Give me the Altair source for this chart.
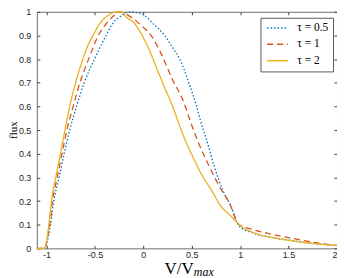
import altair as alt
import pandas as pd

tau_labels = ["τ = 0.5", "τ = 1", "τ = 2"]
colors = ["#0072BD", "#D95319", "#EDB120"]
dashes = [[1.5, 2], [6, 4], [1, 0]]

x_ticks = [-1, -0.5, 0, 0.5, 1, 1.5, 2]
y_ticks = [0, 0.1, 0.2, 0.3, 0.4, 0.5, 0.6, 0.7, 0.8, 0.9, 1]

# tau = 0.5 (blue, dotted)
v_05 = [-1.1, -1.02, -1.0, -0.959, -0.925, -0.87, -0.818, -0.76, -0.69, -0.61, -0.505,
        -0.385, -0.317, -0.22, -0.14, -0.08, 0.013, 0.1, 0.22, 0.3, 0.376, 0.47, 0.55,
        0.589, 0.664, 0.733, 0.819, 0.905, 0.99, 1.128, 1.334, 1.505, 1.746, 2.0]
f_05 = [0, 0, 0.02, 0.1, 0.2, 0.3, 0.4, 0.5, 0.6, 0.7, 0.8,
        0.9, 0.95, 0.985, 1.0, 0.998, 0.985, 0.95, 0.9, 0.85, 0.8, 0.7, 0.6,
        0.542, 0.444, 0.346, 0.248, 0.178, 0.094, 0.066, 0.045, 0.035, 0.021, 0.012]

# tau = 1 (red, dashed)
v_1 = [-1.1, -1.02, -1.0, -0.966, -0.938, -0.89, -0.84, -0.79, -0.725, -0.655, -0.565,
       -0.465, -0.382, -0.3, -0.24, -0.18, -0.1, -0.03, 0.08, 0.185, 0.305, 0.41, 0.493,
       0.579, 0.682, 0.785, 0.888, 0.99, 1.128, 1.334, 1.54, 1.78, 2.0]
f_1 = [0, 0, 0.025, 0.1, 0.2, 0.3, 0.4, 0.5, 0.6, 0.7, 0.8,
       0.9, 0.95, 0.985, 1.0, 0.99, 0.97, 0.945, 0.9, 0.822, 0.71, 0.626, 0.528,
       0.437, 0.346, 0.262, 0.192, 0.1, 0.08, 0.059, 0.042, 0.024, 0.012]

# tau = 2 (yellow, solid)
v_2 = [-1.1, -1.02, -1.0, -0.976, -0.949, -0.904, -0.856, -0.81, -0.76, -0.7, -0.625,
       -0.57, -0.52, -0.45, -0.38, -0.31, -0.27, -0.22, -0.17, -0.1, -0.04, 0.013, 0.064,
       0.133, 0.218, 0.305, 0.373, 0.44, 0.51, 0.613, 0.7, 0.802, 0.905, 1.008, 1.163,
       1.4, 1.68, 2.0]
f_2 = [0, 0, 0.03, 0.1, 0.2, 0.3, 0.4, 0.5, 0.6, 0.7, 0.8,
       0.86, 0.9, 0.95, 0.98, 0.997, 1.0, 0.998, 0.975, 0.955, 0.92, 0.88, 0.836,
       0.766, 0.682, 0.598, 0.52, 0.45, 0.388, 0.304, 0.248, 0.178, 0.136, 0.094, 0.063,
       0.041, 0.024, 0.012]

rows = []
for lab, vs, fs in zip(tau_labels, [v_05, v_1, v_2], [f_05, f_1, f_2]):
    for v, f in zip(vs, fs):
        rows.append({"tau": lab, "v": v, "f": f})
df = pd.DataFrame(rows)

lab_font = "Liberation Sans"
axis_common = dict(offset=-3, tickSize=3, domain=False, grid=False,
                   labelFont=lab_font, labelFontSize=9, labelColor="#262626",
                   tickColor="#404040", labelExpr="datum.value + ''")

legend = alt.Legend(title=None, orient="none", legendX=225, legendY=6,
                    symbolType="M-3,0H3", symbolSize=49, symbolStrokeWidth=1.5,
                    symbolOffset=7, labelOffset=14,
                    labelFont="Liberation Serif", labelFontSize=11.5, labelColor="#000000",
                    strokeColor="#595959", fillColor="white", padding=4.5,
                    rowPadding=3.5)

x_scale = alt.Scale(domain=[-1.1, 2], nice=False, zero=False)
y_scale = alt.Scale(domain=[0, 1], nice=False, zero=False)

lines = alt.Chart(df).mark_line(strokeWidth=1.3, interpolate="monotone").encode(
    x=alt.X("v:Q", scale=x_scale,
            axis=alt.Axis(values=x_ticks, title=None, labelPadding=2, **axis_common)),
    y=alt.Y("f:Q", scale=y_scale,
            axis=alt.Axis(values=y_ticks, title=None, labelPadding=6, **axis_common)),
    color=alt.Color("tau:N", scale=alt.Scale(domain=tau_labels, range=colors), legend=legend),
    strokeDash=alt.StrokeDash("tau:N", scale=alt.Scale(domain=tau_labels, range=dashes), legend=legend),
)

frame_axes = alt.Chart(df).mark_line(opacity=0).encode(
    x=alt.X("v:Q", axis=alt.Axis(orient="top", labels=False, values=x_ticks, title=None,
                                 offset=-3, tickSize=3, domain=False, grid=False, tickColor="#404040")),
    y=alt.Y("f:Q", axis=alt.Axis(orient="right", labels=False, values=y_ticks, title=None,
                                 offset=-3, tickSize=3, domain=False, grid=False, tickColor="#404040")),
    detail="tau:N",
)

xt_main = alt.Chart(pd.DataFrame({"t": ["V/V"]})).mark_text(
    font="Liberation Serif", fontSize=17, align="left", baseline="alphabetic", color="#000000"
).encode(x=alt.value(128.5), y=alt.value(264), text="t:N")

xt_sub = alt.Chart(pd.DataFrame({"t": ["max"]})).mark_text(
    font="Liberation Serif", fontSize=12, fontStyle="italic", align="left",
    baseline="alphabetic", color="#000000"
).encode(x=alt.value(158), y=alt.value(266), text="t:N")

yt = alt.Chart(pd.DataFrame({"t": ["flux"]})).mark_text(
    font="Liberation Serif", fontSize=11, angle=270, align="center",
    baseline="middle", color="#000000"
).encode(x=alt.value(-22.5), y=alt.value(119), text="t:N")

chart = alt.layer(lines, frame_axes, xt_main, xt_sub, yt).resolve_axis(
    x="independent", y="independent"
).properties(
    width=302, height=238,
    autosize=alt.AutoSizeParams(type="none"),
    padding={"left": 29, "top": 3, "right": 0, "bottom": 29},
).configure_view(stroke="#6e6e6e", strokeWidth=1)

chart.save("out.html", embed_options={"renderer": "svg", "actions": False})
